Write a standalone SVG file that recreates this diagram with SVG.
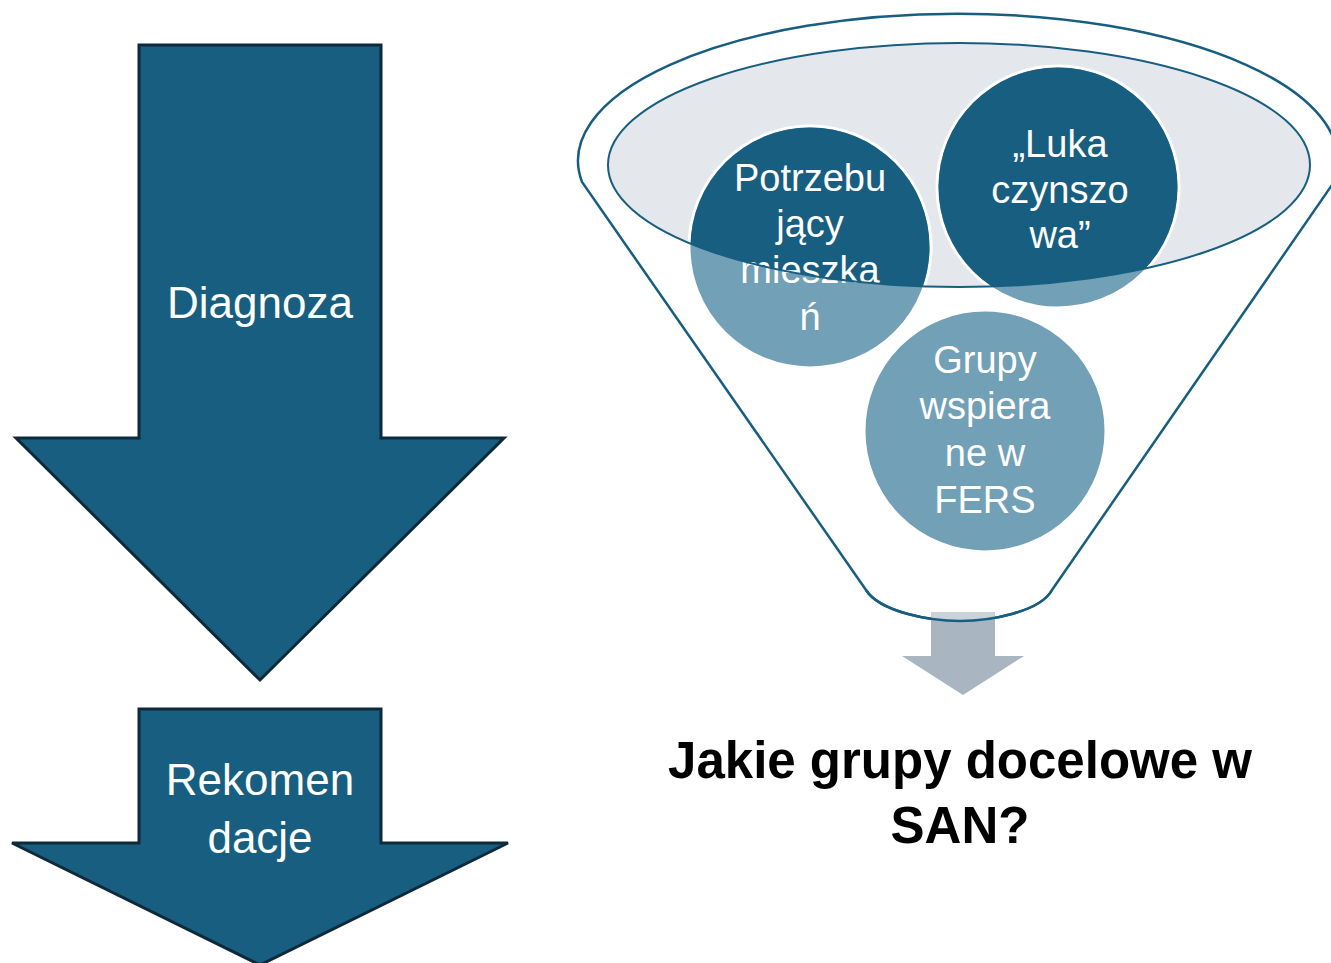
<svg xmlns="http://www.w3.org/2000/svg" width="1331" height="963" viewBox="0 0 1331 963">
  <style>
    .big { fill: #175e80; stroke: #0e2a3a; stroke-width: 3; stroke-linejoin: miter; }
    .lbl { font-family: "Liberation Sans", Arial, sans-serif; fill: #ffffff; text-anchor: middle; }
    .circ { fill: #72a0b6; stroke: #ffffff; stroke-width: 3; }
    .dark { fill: #175e80; }
    .funnel { fill: none; stroke: #175e80; stroke-width: 2.5; }
    .q { font-family: "Liberation Sans", Arial, sans-serif; font-weight: bold; fill: #000000; text-anchor: middle; font-size: 51px; }
  </style>
  <defs>
    <clipPath id="innerClip">
      <ellipse cx="959" cy="165" rx="351" ry="122"/>
    </clipPath>
    <clipPath id="funnelClip">
      <path d="M582,182 A380,147 0 1 1 1334,182 L1052,590 C1040,612 990,621 960,621 C930,621 880,612 866,590 Z"/>
    </clipPath>
  </defs>

  <g id="diagnoza">
    <polygon class="big" points="139,45 381,45 381,438 504,438 260,680 16,438 139,438"/>
    <text class="lbl" x="260" y="318" font-size="44">Diagnoza</text>
  </g>

  <g id="rekomendacje">
    <polygon class="big" points="139,709 381,709 381,843 508,843 260,965 12,843 139,843"/>
    <text class="lbl" x="260" y="795" font-size="44">Rekomen</text>
    <text class="lbl" x="260" y="853" font-size="44">dacje</text>
  </g>

  <g id="funnel">
    <path class="funnel" d="M582,182 A380,147 0 1 1 1334,182 L1052,590 C1040,612 990,621 960,621 C930,621 880,612 866,590 Z"/>
    <ellipse cx="959" cy="165" rx="351" ry="122" fill="#e4e8ed"/>
  </g>

  <g id="circle-potrzebujacy">
    <circle class="circ" cx="810" cy="247" r="121"/>
    <circle class="dark" cx="810" cy="247" r="119.5" clip-path="url(#innerClip)"/>
    <text class="lbl" x="810" y="191" font-size="38">Potrzebu</text>
    <text class="lbl" x="810" y="237" font-size="38">jący</text>
    <text class="lbl" x="810" y="283" font-size="38">mieszka</text>
    <text class="lbl" x="810" y="330" font-size="38">ń</text>
  </g>

  <g id="circle-luka">
    <circle class="circ" cx="1058" cy="187" r="121"/>
    <circle class="dark" cx="1058" cy="187" r="119.5" clip-path="url(#innerClip)"/>
    <text class="lbl" x="1060" y="157" font-size="38">„Luka</text>
    <text class="lbl" x="1060" y="203" font-size="38">czynszo</text>
    <text class="lbl" x="1060" y="248" font-size="38">wa”</text>
  </g>

  <g id="circle-grupy">
    <circle class="circ" cx="985" cy="431" r="121"/>
    <text class="lbl" x="985" y="373" font-size="38">Grupy</text>
    <text class="lbl" x="985" y="419" font-size="38">wspiera</text>
    <text class="lbl" x="985" y="466" font-size="38">ne w</text>
    <text class="lbl" x="985" y="513" font-size="38">FERS</text>
  </g>

  <g id="connectors">
    <ellipse cx="959" cy="165" rx="351" ry="122" fill="none" stroke="#175e80" stroke-width="2"/>
    <polygon points="931,612 995,612 995,656 1024,656 963,695 902,656 931,656" fill="#a9b6c2"/>
    <rect x="931" y="612" width="64" height="12" fill="#ffffff" fill-opacity="0.4" clip-path="url(#funnelClip)"/>
    <path class="funnel" d="M866,590 C880,612 930,621 960,621 C990,621 1040,612 1052,590"/>
  </g>

  <g id="question">
    <text class="q" x="960" y="778">Jakie grupy docelowe w</text>
    <text class="q" x="960" y="843">SAN?</text>
  </g>
</svg>
